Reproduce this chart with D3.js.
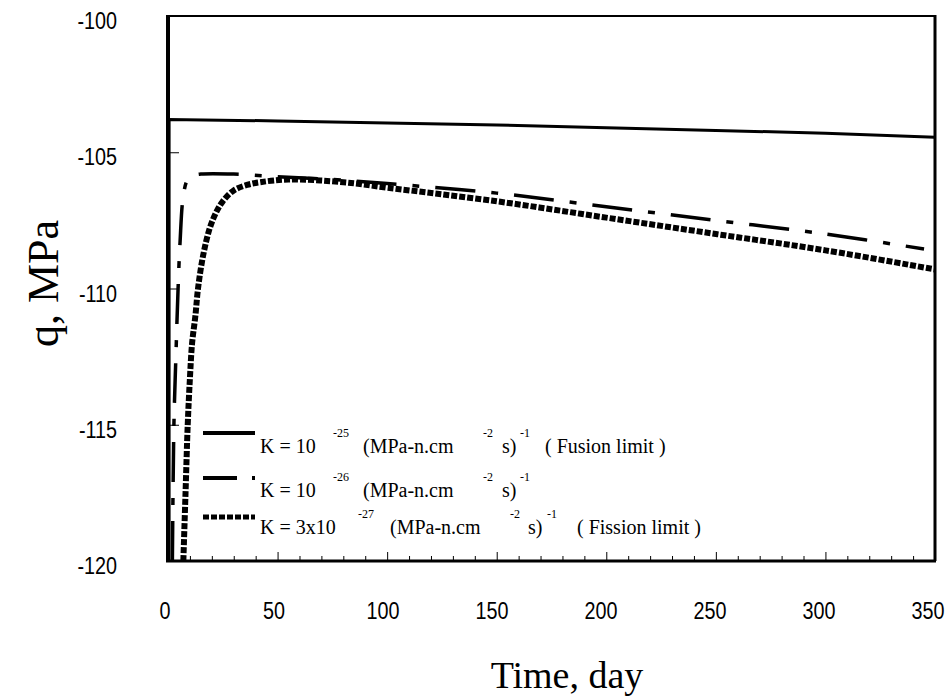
<!DOCTYPE html>
<html>
<head>
<meta charset="utf-8">
<script src="https://cdn.jsdelivr.net/npm/d3@7"></script>
<style>
    body { margin: 0; background: #ffffff; }
    .tick-label { font-family: "Liberation Sans", Arial, sans-serif; font-size: 23px; fill: #000; }
    .axis-title { font-family: "Liberation Serif", "Times New Roman", serif; font-size: 38px; fill: #000; }
    .legend { font-family: "Liberation Serif", "Times New Roman", serif; font-size: 20px; fill: #000; }
    .legend-sup { font-size: 12px; }
</style>
</head>
<body>
<svg id="chart"></svg>
<script>
// data

let xTicks = [0, 50, 100, 150, 200, 250, 300, 350];
let yTicks = [-100, -105, -110, -115, -120];

// K = 1e-25, fusion limit
let fusionTime = [0.5, 0.5, 50, 100, 150, 200, 250, 300, 350];
let fusionQ = [-120, -103.8, -103.85, -103.93, -104.0, -104.1, -104.2, -104.3, -104.45];

// K = 1e-26
let midTime = [2, 2.7, 3.6, 4.6, 5.5, 7, 9, 12, 15, 30, 50, 75, 100, 150, 200, 250, 300, 345];
let midQ = [-120, -115, -112.5, -110, -108.3, -106.6, -106.0, -105.85, -105.8, -105.8, -105.9, -106.0, -106.15, -106.5, -107.0, -107.5, -108.0, -108.55];

// K = 3e-27, fission limit
let fissionTime = [7, 8, 9, 10, 11, 12.5, 13.7, 16, 19, 22, 25, 30, 36, 42, 55, 80, 100, 150, 200, 250, 300, 350];
let fissionQ = [-120, -117.5, -115, -113.3, -112, -111, -110, -108.8, -107.8, -107.2, -106.8, -106.4, -106.2, -106.1, -106.0, -106.1, -106.3, -106.8, -107.4, -108.0, -108.6, -109.3];

// sizes

let outerWidth = 948;
let outerHeight = 700;
let plotLeft = 168;
let plotRight = 935;
let plotTop = 16;
let plotBottom = 561;
let narrow = 0.86; // tick font in the original is a condensed sans

// scales

let xScale = d3.scaleLinear()
    .domain([0, 350])
    .range([plotLeft, plotRight]);

let yScale = d3.scaleLinear()
    .domain([-120, -100])
    .range([plotBottom, plotTop]);

let svg = d3.select('#chart')
    .attr('width', outerWidth)
    .attr('height', outerHeight);

svg.append('defs')
    .append('clipPath')
    .attr('id', 'plot-clip')
    .append('rect')
    .attr('x', plotLeft)
    .attr('y', plotTop)
    .attr('width', plotRight - plotLeft)
    .attr('height', plotBottom - plotTop);

// frame

svg.append('line')
    .attr('x1', plotLeft).attr('x2', plotRight)
    .attr('y1', plotTop).attr('y2', plotTop)
    .style('stroke', '#000').style('stroke-width', 2);

svg.append('line')
    .attr('x1', plotRight).attr('x2', plotRight)
    .attr('y1', plotTop - 1).attr('y2', plotBottom)
    .style('stroke', '#000').style('stroke-width', 3);

// x axis, minor ticks every 10 days, pointing up
svg.append('g')
    .attr('transform', `translate(0, ${plotBottom})`)
    .call(d3.axisBottom(xScale)
        .tickValues(d3.range(0, 351, 10))
        .tickSize(-5)
        .tickFormat(''))
    .call(g => g.select('.domain').remove())
    .call(g => g.selectAll('.tick line')
        .attr('y2', d => d % 50 === 0 ? -9 : -5)
        .style('stroke', '#000'));

svg.selectAll('.x-label')
    .data(xTicks)
    .enter()
    .append('text')
    .attr('class', 'tick-label')
    // labels sit a little left of their ticks in the original
    .attr('transform', d => `translate(${xScale(d) - 3 - d / 90}, 619) scale(${narrow}, 1)`)
    .attr('text-anchor', 'middle')
    .text(d => d);

// y axis, ticks pointing right
svg.append('g')
    .attr('transform', `translate(${plotLeft}, 0)`)
    .call(d3.axisRight(yScale)
        .tickValues(yTicks.filter(d => d !== -100 && d !== -120))
        .tickSize(11)
        .tickFormat(''))
    .call(g => g.select('.domain').remove())
    .call(g => g.selectAll('.tick line').style('stroke', '#000'));

svg.selectAll('.y-label')
    .data(yTicks)
    .enter()
    .append('text')
    .attr('class', 'tick-label')
    .attr('transform', d => `translate(117, ${yScale(d) + 13}) scale(${narrow}, 1)`)
    .attr('text-anchor', 'end')
    .text(d => d);

svg.append('line')
    .attr('x1', plotLeft - 2).attr('x2', plotRight + 1)
    .attr('y1', plotBottom).attr('y2', plotBottom)
    .style('stroke', '#000').style('stroke-width', 3);

svg.append('line')
    .attr('x1', plotLeft).attr('x2', plotLeft)
    .attr('y1', plotTop - 1).attr('y2', plotBottom + 1)
    .style('stroke', '#000').style('stroke-width', 4);

// axis titles

svg.append('text')
    .attr('class', 'axis-title')
    .attr('x', 567)
    .attr('y', 688)
    .attr('text-anchor', 'middle')
    .text('Time, day');

svg.append('text')
    .attr('class', 'axis-title')
    .attr('transform', `translate(58, ${yScale(-110) - 5}) rotate(-90)`)
    .attr('text-anchor', 'middle')
    .style('font-size', '44px')
    .text('q, MPa');

// curves

let series = [
    { time: fusionTime, q: fusionQ, dash: null, width: 3, curve: d3.curveLinear },
    { time: midTime, q: midQ, dash: '40,16,7,16', width: 3.5, curve: d3.curveCatmullRom.alpha(0.5) },
    { time: fissionTime, q: fissionQ, dash: '6,2', width: 6, curve: d3.curveCatmullRom.alpha(0.5) }
];

let curves = svg.append('g').attr('clip-path', 'url(#plot-clip)');

series.forEach(s => {
    let points = s.time.map((t, i) => [t, s.q[i]]);
    let line = d3.line()
        .x(d => xScale(d[0]))
        .y(d => yScale(d[1]))
        .curve(s.curve);
    curves.append('path')
        .attr('d', line(points))
        .style('fill', 'none')
        .style('stroke', '#000')
        .style('stroke-width', s.width)
        .style('stroke-dasharray', s.dash);
});

// legend

let legendRows = [
    { y: 433, dash: null, width: 4, parts: [['K = 10', 260, 0], ['-25', 333, 1], ['(MPa-n.cm', 363, 0], ['-2', 483, 1], ['s)', 502, 0], ['-1', 520, 1], ['( Fusion limit )', 545, 0]] },
    { y: 478, dash: '34,15,4,50', width: 4, parts: [['K = 10', 260, 0], ['-26', 333, 1], ['(MPa-n.cm', 363, 0], ['-2', 483, 1], ['s)', 502, 0], ['-1', 520, 1]] },
    { y: 517, dash: '6,2', width: 5, parts: [['K = 3x10', 260, 0], ['-27', 358, 1], ['(MPa-n.cm', 390, 0], ['-2', 510, 1], ['s)', 528, 0], ['-1', 547, 1], ['( Fission limit )', 577, 0]] }
];
let legendBaselines = [453, 497, 534];

let legend = svg.append('g');

legendRows.forEach((row, i) => {
    legend.append('line')
        .attr('x1', 203).attr('x2', 255)
        .attr('y1', row.y).attr('y2', row.y)
        .style('stroke', '#000')
        .style('stroke-width', row.width)
        .style('stroke-dasharray', row.dash);

    let text = legend.append('text')
        .attr('class', 'legend');
    row.parts.forEach(p => {
        text.append('tspan')
            .attr('x', p[1])
            .attr('y', p[2] ? legendBaselines[i] - 16 : legendBaselines[i])
            .attr('class', p[2] ? 'legend-sup' : null)
            .text(p[0]);
    });
});
</script>
</body>
</html>
